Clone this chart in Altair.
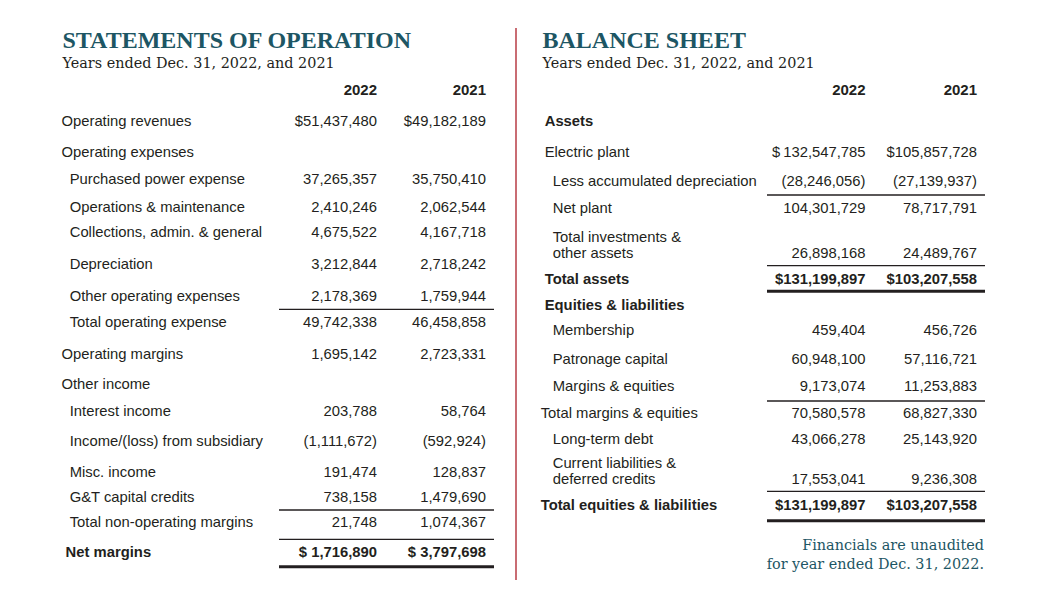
import altair as alt
import pandas as pd

# ---------------- DATA ----------------
OPS_LABELS = [
    "Operating revenues", "Operating expenses", "Purchased power expense",
    "Operations & maintenance", "Collections, admin. & general", "Depreciation",
    "Other operating expenses", "Total operating expense", "Operating margins",
    "Other income", "Interest income", "Income/(loss) from subsidiary",
    "Misc. income", "G&T capital credits", "Total non-operating margins",
    "Net margins",
]
OPS_2022 = [51437480, None, 37265357, 2410246, 4675522, 3212844, 2178369, 49742338,
            1695142, None, 203788, -1111672, 191474, 738158, 21748, 1716890]
OPS_2021 = [49182189, None, 35750410, 2062544, 4167718, 2718242, 1759944, 46458858,
            2723331, None, 58764, -592924, 128837, 1479690, 1074367, 3797698]
OPS_PREFIX_2022 = ["$"] + [""] * 14 + ["$ "]
OPS_PREFIX_2021 = ["$"] + [""] * 14 + ["$ "]
OPS_LEVEL = [0, 0, 1, 1, 1, 1, 1, 1, 0, 0, 1, 1, 1, 1, 1, 0.5]
OPS_BOLD = [False] * 15 + [True]

BAL_LABELS = [
    "Assets", "Electric plant", "Less accumulated depreciation", "Net plant",
    "Total investments &\nother assets", "Total assets", "Equities & liabilities",
    "Membership", "Patronage capital", "Margins & equities",
    "Total margins & equities", "Long-term debt",
    "Current liabilities &\ndeferred credits", "Total equities & liabilities",
]
BAL_2022 = [None, 132547785, -28246056, 104301729, 26898168, 131199897, None,
            459404, 60948100, 9173074, 70580578, 43066278, 17553041, 131199897]
BAL_2021 = [None, 105857728, -27139937, 78717791, 24489767, 103207558, None,
            456726, 57116721, 11253883, 68827330, 25143920, 9236308, 103207558]
BAL_PREFIX_2022 = ["", "$\u2009", "", "", "", "$", "", "", "", "", "", "", "", "$"]
BAL_PREFIX_2021 = ["", "$", "", "", "", "$", "", "", "", "", "", "", "", "$"]
BAL_LEVEL = [0, 0, 1, 1, 1, 0, 0, 1, 1, 1, -0.5, 1, 1, -0.5]
BAL_BOLD = [True, False, False, False, False, True, True, False, False, False,
            False, False, False, True]

YEARS = ["2022", "2021"]
TITLES = ["STATEMENTS OF OPERATION", "BALANCE SHEET"]
SUBTITLE = "Years ended Dec. 31, 2022, and 2021"
FOOTNOTE = ["Financials are unaudited", "for year ended Dec. 31, 2022."]

# ---------------- LAYOUT ----------------
W, H = 1032, 583
TEAL = "#1d5664"
INK = "#231f20"
RED = "#b73b45"

LEFT = dict(x0=61.5, indent=8.2, c1=377, c2=486, rule=(279, 494),
            rows=[121, 152, 179, 206.7, 231.7, 264, 295.7, 321.7, 354, 384,
                  410.7, 441, 471.7, 496.7, 521.7, 551.7],
            thin=[309.3, 510, 539.3], thick=[566.7])
RIGHT = dict(x0=544.7, indent=8, c1=865.5, c2=977, rule=(767, 985),
             rows=[120.7, 151.7, 181, 208.3, 253.3, 279, 305, 330, 359.3, 385.7,
                   412.7, 439, 479.3, 505],
             thin=[195, 265.7, 401, 491.3], thick=[291.3, 520.7])


def fmt(v, prefix):
    if v is None:
        return ""
    s = f"{abs(v):,}"
    if v < 0:
        return f"({s})"
    return prefix + s


labels, values, rules = [], [], []
for lay, L, V22, V21, P22, P21, LV, B in [
    (LEFT, OPS_LABELS, OPS_2022, OPS_2021, OPS_PREFIX_2022, OPS_PREFIX_2021, OPS_LEVEL, OPS_BOLD),
    (RIGHT, BAL_LABELS, BAL_2022, BAL_2021, BAL_PREFIX_2022, BAL_PREFIX_2021, BAL_LEVEL, BAL_BOLD),
]:
    for i, lab in enumerate(L):
        y = lay["rows"][i]
        ly = y - 16 if "\n" in lab else y
        labels.append(dict(x=lay["x0"] + LV[i] * lay["indent"], y=ly, text=lab, bold=B[i]))
        values.append(dict(x=lay["c1"], y=y, text=fmt(V22[i], P22[i]), bold=B[i]))
        values.append(dict(x=lay["c2"], y=y, text=fmt(V21[i], P21[i]), bold=B[i]))
    for yy in lay["thin"]:
        rules.append(dict(x=lay["rule"][0], x2=lay["rule"][1], y=yy, w="thin"))
    for yy in lay["thick"]:
        rules.append(dict(x=lay["rule"][0], x2=lay["rule"][1], y=yy, w="thick"))

lab_df = pd.DataFrame(labels)
val_df = pd.DataFrame(values)
rule_df = pd.DataFrame(rules)
head_df = pd.DataFrame([dict(x=c, y=90, text=t) for lay in (LEFT, RIGHT)
                        for c, t in zip((lay["c1"], lay["c2"]), YEARS)])
title_df = pd.DataFrame([dict(x=62.5, y=48, text=TITLES[0]), dict(x=542.5, y=48, text=TITLES[1])])
sub_df = pd.DataFrame([dict(x=62.5, y=67.5, text=SUBTITLE), dict(x=542.5, y=67.5, text=SUBTITLE)])
foot_df = pd.DataFrame([dict(x=984, y=549.5, text=FOOTNOTE[0]), dict(x=984, y=568.5, text=FOOTNOTE[1])])
sep_df = pd.DataFrame([dict(x=516, y=28, y2=580)])

xs = alt.Scale(domain=[8, 8 + W], nice=False, zero=False)
ys = alt.Scale(domain=[8, 8 + H], nice=False, zero=False, reverse=True)
X = alt.X("x:Q", scale=xs, axis=None)
Y = alt.Y("y:Q", scale=ys, axis=None)

SANS = "Liberation Sans"
SERIF = "Liberation Serif"
SLAB = "DejaVu Serif"
FS = 14.8

layers = []
for bold in (False, True):
    d = lab_df[lab_df.bold == bold]
    layers.append(alt.Chart(d).mark_text(
        align="left", baseline="middle", font=SANS, fontSize=FS, dy=1,
        fontWeight="bold" if bold else "normal", color=INK, lineBreak="\n", lineHeight=15.4
    ).encode(x=X, y=Y, text="text:N"))
    d = val_df[(val_df.bold == bold) & (val_df.text != "")]
    layers.append(alt.Chart(d).mark_text(
        align="right", baseline="middle", font=SANS, fontSize=FS, dy=1,
        fontWeight="bold" if bold else "normal", color=INK
    ).encode(x=X, y=Y, text="text:N"))

layers.append(alt.Chart(head_df).mark_text(
    align="right", baseline="middle", font=SANS, fontSize=15, fontWeight="bold", color=INK
).encode(x=X, y=Y, text="text:N"))
layers.append(alt.Chart(title_df).mark_text(
    align="left", baseline="alphabetic", font=SERIF, fontSize=24, fontWeight="bold", color=TEAL
).encode(x=X, y=Y, text="text:N"))
layers.append(alt.Chart(sub_df).mark_text(
    align="left", baseline="alphabetic", font=SLAB, fontSize=14.4, color=INK
).encode(x=X, y=Y, text="text:N"))
layers.append(alt.Chart(foot_df).mark_text(
    align="right", baseline="alphabetic", font=SLAB, fontSize=14.4, color=TEAL
).encode(x=X, y=Y, text="text:N"))
layers.append(alt.Chart(rule_df[rule_df.w == "thin"]).mark_rule(color=INK, strokeWidth=1.3).encode(
    x=X, x2="x2:Q", y=Y))
layers.append(alt.Chart(rule_df[rule_df.w == "thick"]).mark_rule(color=INK, strokeWidth=3).encode(
    x=X, x2="x2:Q", y=Y))
layers.append(alt.Chart(sep_df).mark_rule(color=RED, strokeWidth=1.5).encode(
    x=X, y=Y, y2="y2:Q"))

chart = alt.layer(*layers).properties(
    width=W, height=H, padding=0, autosize=alt.AutoSizeParams(type="none"),
    background="white"
).configure_view(stroke=None)

chart.save("out.html", embed_options={"renderer": "svg", "actions": False})
